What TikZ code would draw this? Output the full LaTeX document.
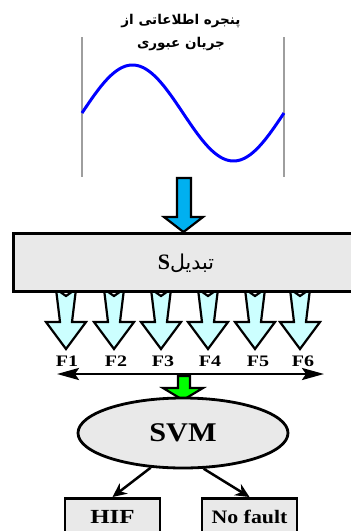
\documentclass[tikz,border=0pt]{standalone}
\usepackage{fontspec}
\setmainfont{Liberation Serif}
\newfontfamily\arabicfont[Script=Arabic]{DejaVu Sans}
\TeXXeTstate=1
\usetikzlibrary{arrows.meta,shapes.geometric}
\definecolor{skyarrow}{RGB}{0,176,240}
\definecolor{paleCyan}{RGB}{204,255,255}
\definecolor{brightGreen}{RGB}{0,255,0}
\definecolor{boxgray}{RGB}{233,233,233}
\newcommand\wide[1]{\scalebox{1.25}[1]{#1}}
\tikzset{
  blockarrow/.style={draw=black, line width=2.2pt, line join=miter},
  graybox/.style={draw=black, line width=2.8pt, fill=boxgray},
  flabel/.style={font=\bfseries\fontsize{16}{18}\selectfont, inner sep=0pt},
  farrow/.pic={\draw[blockarrow, fill=paleCyan] (-10,0) -- (0,-7) -- (10,0) -- (6,-33) -- (20,-33) -- (0,-60) -- (-20,-33) -- (-6,-33) -- cycle;},
  conn/.style={line width=2.5pt, -{Stealth[length=14pt,width=13pt]}}
}
\begin{document}
\begin{tikzpicture}[x=1pt,y=1pt]
\useasboundingbox (0,0) rectangle (351,-531);
% title
\node[font=\arabicfont\bfseries\fontsize{13.5}{15}\selectfont, inner sep=0pt] (t1) at (181,-21) {\beginR پنجره اطلاعاتی از\endR};
\node[font=\arabicfont\bfseries\fontsize{13.5}{15}\selectfont, inner sep=0pt] (t2) at (181,-44) {\beginR جریان عبوری\endR};
% window lines
\draw[color=black!38, line width=1.6pt] (82,-37) -- (82,-177);
\draw[color=black!38, line width=1.6pt] (284,-37) -- (284,-177);
% sine wave
\draw[blue, line width=3pt] plot[domain=82:284, samples=120, smooth] (\x, {-113 + 48*sin((\x-82)/202*360)});
% blue arrow
\draw[blockarrow, fill=skyarrow] (177,-178) -- (191,-178) -- (191,-217) -- (203,-217) -- (183.5,-232) -- (164,-217) -- (177,-217) -- cycle;
% feature arrows (behind box)
\foreach \xx in {66,114,161,208,255,300} { \pic at (\xx,-289) {farrow}; }
% S transform box
\node[graybox, anchor=north west, minimum width=348pt, minimum height=58pt, inner sep=0pt] (sbox) at (12,-232) {};
\node[inner sep=0pt] (stxt) at (186,-263) {\fontsize{22}{24}\selectfont\bfseries S\arabicfont\mdseries\fontsize{20.5}{22}\selectfont\beginR تبدیل\endR};
% labels
\node[flabel] (f1) at (67,-361) {\wide{F1}};
\node[flabel] (f2) at (116,-361) {\wide{F2}};
\node[flabel] (f3) at (163,-361) {\wide{F3}};
\node[flabel] (f4) at (210,-361) {\wide{F4}};
\node[flabel] (f5) at (258,-361) {\wide{F5}};
\node[flabel] (f6) at (303,-361) {\wide{F6}};
% double arrow
\coordinate (da) at (57,-374);
\coordinate (db) at (324,-374);
\draw[line width=2.5pt, {Stealth[length=22pt,width=12pt,inset=4pt]}-{Stealth[length=22pt,width=12pt,inset=4pt]}] (da) -- (db);
% green arrow
\draw[blockarrow, fill=brightGreen] (178,-376) -- (190,-376) -- (190,-388) -- (203,-388) -- (183,-400) -- (163,-388) -- (178,-388) -- cycle;
% SVM
\node[graybox, ellipse, minimum width=210pt, minimum height=70pt, inner sep=0pt] (svm) at (183,-433) {\fontsize{27}{30}\selectfont\bfseries\scalebox{1.12}[1]{SVM}};
% outputs
\node[graybox, anchor=north, minimum width=95pt, minimum height=46pt, inner sep=0pt, line width=2.5pt] (hif) at (112.5,-497) {};
\node[inner sep=0pt, font=\bfseries\fontsize{20}{22}\selectfont] (hift) at (112.5,-517) {\wide{HIF}};
\node[graybox, anchor=north, minimum width=95pt, minimum height=46pt, inner sep=0pt, line width=2.5pt] (nf) at (249.5,-497) {};
\node[inner sep=0pt, font=\bfseries\fontsize{19}{21}\selectfont] (nft) at (249.5,-517) {\scalebox{1.15}[1]{No fault}};
\draw[conn] (svm.227) -- (hif.north);
\draw[conn] (svm.300) -- (nf.north);
\end{tikzpicture}
\end{document}
